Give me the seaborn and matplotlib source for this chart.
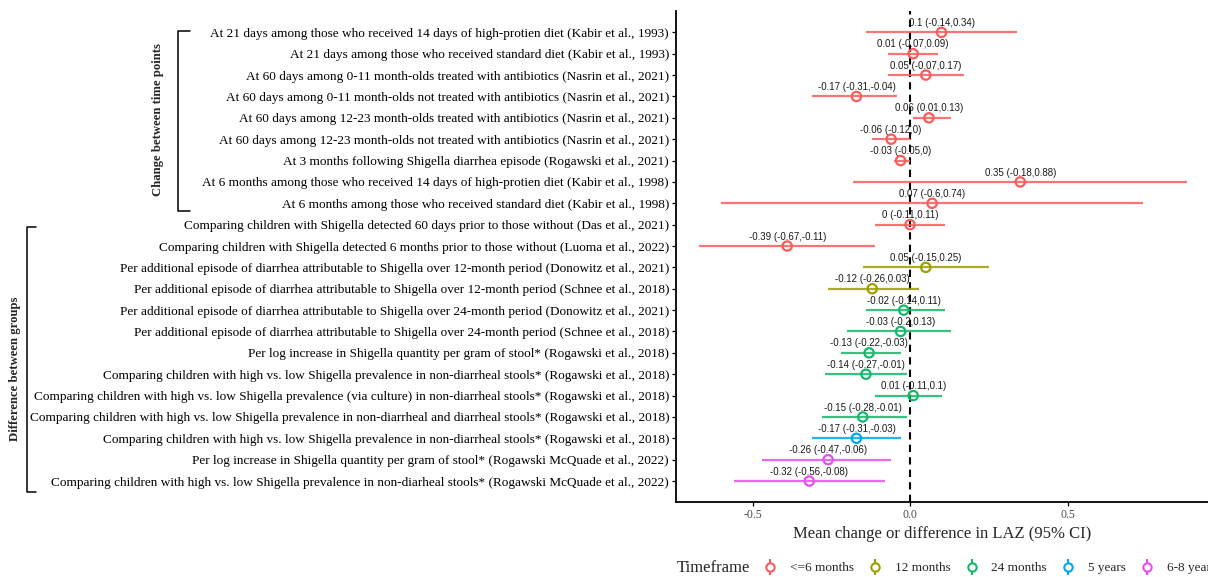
import numpy as np
import pandas as pd
import matplotlib
matplotlib.use('Agg')
import matplotlib.pyplot as plt
from matplotlib.lines import Line2D
from matplotlib.legend_handler import HandlerTuple
import seaborn as sns

# data
labels = [
    "At 21 days among those who received 14 days of high-protien diet (Kabir et al., 1993)",
    "At 21 days among those who received standard diet (Kabir et al., 1993)",
    "At 60 days among 0-11 month-olds treated with antibiotics (Nasrin et al., 2021)",
    "At 60 days among 0-11 month-olds not treated with antibiotics (Nasrin et al., 2021)",
    "At 60 days among 12-23 month-olds treated with antibiotics (Nasrin et al., 2021)",
    "At 60 days among 12-23 month-olds not treated with antibiotics (Nasrin et al., 2021)",
    "At 3 months following Shigella diarrhea episode (Rogawski et al., 2021)",
    "At 6 months among those who received 14 days of high-protien diet (Kabir et al., 1998)",
    "At 6 months among those who received standard diet (Kabir et al., 1998)",
    "Comparing children with Shigella detected 60 days prior to those without (Das et al., 2021)",
    "Comparing children with Shigella detected 6 months prior to those without (Luoma et al., 2022)",
    "Per additional episode of diarrhea attributable to Shigella over 12-month period (Donowitz et al., 2021)",
    "Per additional episode of diarrhea attributable to Shigella over 12-month period (Schnee et al., 2018)",
    "Per additional episode of diarrhea attributable to Shigella over 24-month period (Donowitz et al., 2021)",
    "Per additional episode of diarrhea attributable to Shigella over 24-month period (Schnee et al., 2018)",
    "Per log increase in Shigella quantity per gram of stool* (Rogawski et al., 2018)",
    "Comparing children with high vs. low Shigella prevalence in non-diarrheal stools* (Rogawski et al., 2018)",
    "Comparing children with high vs. low Shigella prevalence (via culture) in non-diarrheal stools* (Rogawski et al., 2018)",
    "Comparing children with high vs. low Shigella prevalence in non-diarrheal and diarrheal stools* (Rogawski et al., 2018)",
    "Comparing children with high vs. low Shigella prevalence in non-diarrheal stools* (Rogawski et al., 2018)",
    "Per log increase in Shigella quantity per gram of stool* (Rogawski McQuade et al., 2022)",
    "Comparing children with high vs. low Shigella prevalence in non-diarheal stools* (Rogawski McQuade et al., 2022)",
]
est = [0.1, 0.01, 0.05, -0.17, 0.06, -0.06, -0.03, 0.35, 0.07, 0, -0.39,
       0.05, -0.12, -0.02, -0.03, -0.13, -0.14, 0.01, -0.15, -0.17, -0.26, -0.32]
lower = [-0.14, -0.07, -0.07, -0.31, 0.01, -0.12, -0.05, -0.18, -0.6, -0.11, -0.67,
         -0.15, -0.26, -0.14, -0.2, -0.22, -0.27, -0.11, -0.28, -0.31, -0.47, -0.56]
upper = [0.34, 0.09, 0.17, -0.04, 0.13, 0, 0, 0.88, 0.74, 0.11, -0.11,
         0.25, 0.03, 0.11, 0.13, -0.03, -0.01, 0.1, -0.01, -0.03, -0.06, -0.08]
timeframe = ['<=6 months'] * 11 + ['12 months'] * 2 + ['24 months'] * 6 + ['5 years'] + ['6-8 years'] * 2

tf_order = ['<=6 months', '12 months', '24 months', '5 years', '6-8 years']
tf_colors = ['#FA5C5C', '#9E9E00', '#14B86A', '#00A6F0', '#E64FEE']
pal = dict(zip(tf_order, tf_colors))

df = pd.DataFrame({'label': labels, 'est': est, 'lower': lower, 'upper': upper,
                   'timeframe': timeframe})
df['row'] = np.arange(len(df))

def fmt(v):
    return ('%.2f' % v).rstrip('0').rstrip('.') if v != 0 else '0'

df['text'] = [f"{fmt(e)} ({fmt(l)},{fmt(u)})" for e, l, u in zip(df.est, df.lower, df.upper)]

sns.set_theme(style='ticks')
plt.rcParams['font.family'] = ['Liberation Serif', 'DejaVu Serif']

W, H = 1208, 577
fig = plt.figure(figsize=(W / 100, H / 100), dpi=100)
ax = fig.add_axes([676 / W, 1 - 502 / H, 1 - 676 / W, (502 - 11) / H])

# confidence intervals
ax.hlines(df['row'], df['lower'], df['upper'], colors=[pal[t] for t in df['timeframe']],
          lw=1.6, alpha=0.85, zorder=2)
ax.axvline(0, color='black', ls=(0, (3.5, 2.5)), lw=1.5, zorder=1)

sns.scatterplot(data=df, x='est', y='row', hue='timeframe', hue_order=tf_order,
                palette=pal, s=45, legend=False, ax=ax, zorder=3)
pts = ax.collections[-1]
pts.set_edgecolors(pts.get_facecolors())
pts.set_facecolors('none')
pts.set_linewidths(1.6)

for _, r in df.iterrows():
    ax.text(r['est'], r['row'] - 0.44, r['text'], ha='center', va='center',
            fontsize=7, family='Liberation Sans', color='#1a1a1a', zorder=4)

ax.set_xlim(-0.743, 0.946)
ax.set_ylim(21.98, -1.0)
ax.set_yticks(df['row'])
ax.set_yticklabels(df['label'], fontsize=9.5, color='black')
ax.set_xticks([-0.5, 0, 0.5])
ax.set_xticklabels(['-0.5', '0.0', '0.5'], fontsize=8.5, color='#4D4D4D')
ax.tick_params(axis='both', length=2.75, width=0.9, color='black', pad=2.2)
ax.set_xlabel('Mean change or difference in LAZ (95% CI)', fontsize=12, labelpad=4)
ax.set_ylabel('')
for s in ['top', 'right']:
    ax.spines[s].set_visible(False)
for s in ['left', 'bottom']:
    ax.spines[s].set_color('black')
    ax.spines[s].set_linewidth(1.3)

# group brackets
def fx(px):
    return px / W

def fy(py):
    return 1 - py / H

for x0, x1, y0, y1 in [(178, 190, 31, 211), (27, 36, 227, 492)]:
    fig.add_artist(Line2D([fx(x1), fx(x0), fx(x0), fx(x1)],
                          [fy(y0), fy(y0), fy(y1), fy(y1)], color='black', lw=1.1))
fig.text(fx(158), fy(120), 'Change between time points', rotation=90, ha='center',
         va='center', fontsize=9.2, fontweight='bold')
fig.text(fx(15), fy(369), 'Difference between groups', rotation=90, ha='center',
         va='center', fontsize=9.2, fontweight='bold')

# legend
fig.text(fx(677), fy(568), 'Timeframe', ha='left', va='center', fontsize=12)
handles = [(Line2D([], [], color=c, marker='|', ms=12, mew=1.5, ls='none'),
            Line2D([], [], color=c, marker='o', ms=6, mfc='white', mew=1.5, ls='none'))
           for c in tf_colors]
fig.legend(handles, tf_order, handler_map={tuple: HandlerTuple(ndivide=1, pad=0)},
           loc='center left', bbox_to_anchor=(fx(763.5), fy(568)), ncol=5, frameon=False,
           fontsize=9.5, handlelength=1.0, handletextpad=1.0, columnspacing=1.1,
           borderpad=0, borderaxespad=0)

fig.savefig('out.png', dpi=100)
